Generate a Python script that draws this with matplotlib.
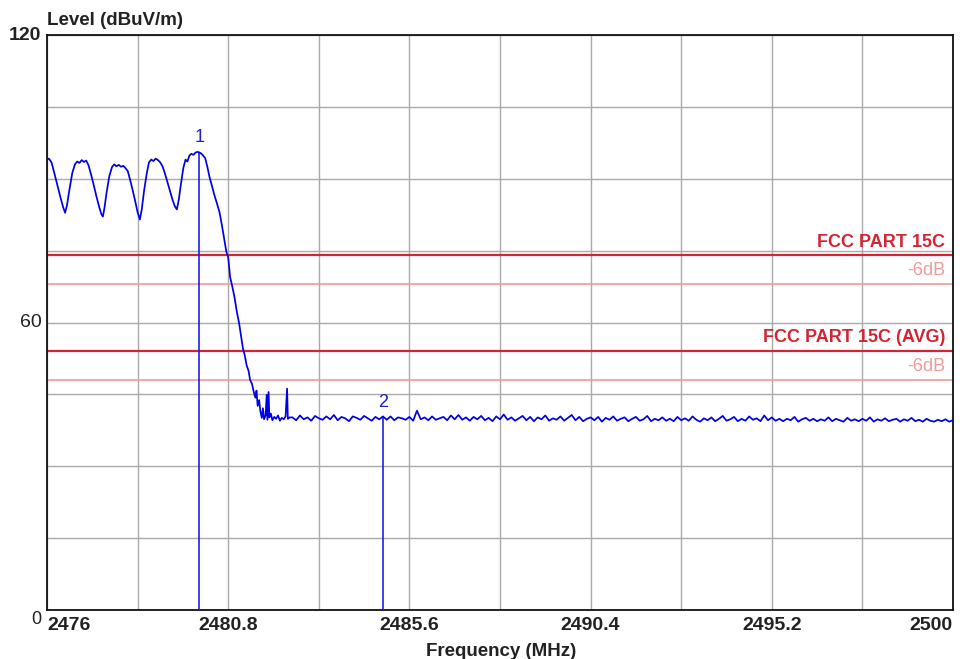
import numpy as np
import matplotlib
matplotlib.use("Agg")
import matplotlib.pyplot as plt

plt.rcParams["font.family"] = ["Liberation Sans", "DejaVu Sans"]

# in-band ripple and band-edge roll-off (MHz, dBuV/m)
edge_freq = [
    2476.00, 2476.05, 2476.12, 2476.20, 2476.28, 2476.36, 2476.43, 2476.48, 2476.53, 2476.60,
    2476.67, 2476.74, 2476.80, 2476.86, 2476.92, 2476.98, 2477.04, 2477.10, 2477.17, 2477.24,
    2477.31, 2477.38, 2477.44, 2477.48, 2477.52, 2477.58, 2477.65, 2477.72, 2477.78, 2477.84,
    2477.90, 2477.96, 2478.02, 2478.08, 2478.14, 2478.20, 2478.27, 2478.34, 2478.40, 2478.46,
    2478.51, 2478.57, 2478.64, 2478.70, 2478.76, 2478.82, 2478.88, 2478.94, 2479.00, 2479.06,
    2479.12, 2479.19, 2479.26, 2479.33, 2479.39, 2479.44, 2479.49, 2479.55, 2479.61, 2479.67,
    2479.72, 2479.77, 2479.82, 2479.88, 2479.94, 2480.00, 2480.06, 2480.12, 2480.19, 2480.25,
    2480.31, 2480.37, 2480.43, 2480.50, 2480.57, 2480.64, 2480.70, 2480.75, 2480.80, 2480.85,
    2480.90, 2480.96, 2481.03, 2481.09, 2481.15, 2481.19, 2481.24, 2481.29, 2481.34, 2481.38,
    2481.43, 2481.48, 2481.52, 2481.55, 2481.58, 2481.62, 2481.65, 2481.69, 2481.72, 2481.75,
    2481.79, 2481.82, 2481.84, 2481.87, 2481.89, 2481.93, 2481.97, 2482.02, 2482.07, 2482.12,
    2482.17, 2482.22, 2482.27, 2482.32, 2482.36, 2482.38, 2482.43,
]
edge_level = [
    94.0, 94.2, 93.4, 91.0, 88.5, 86.0, 84.0, 82.9, 84.5, 88.0,
    91.2, 93.0, 93.6, 93.3, 93.9, 93.5, 93.8, 92.8, 90.8, 88.6,
    86.3, 84.2, 82.6, 82.1, 83.8, 87.2, 90.5, 92.4, 93.0, 92.6,
    92.9, 92.5, 92.7, 92.2, 91.6, 89.8, 87.6, 85.2, 83.0, 81.5,
    83.6, 87.4, 91.0, 93.4, 94.0, 93.7, 94.2, 93.9, 93.4, 92.6,
    91.2, 89.3, 87.4, 85.5, 84.2, 83.6, 85.6, 89.0, 92.2, 94.0,
    93.6, 94.8, 95.2, 95.0, 95.5, 95.6, 95.4, 95.0, 94.3, 92.4,
    90.2, 88.5, 86.7, 84.9, 83.0, 80.0, 77.2, 74.8, 73.6, 69.5,
    67.8, 65.6, 62.2, 59.8, 56.7, 54.6, 53.1, 51.0, 49.9, 48.0,
    47.2, 45.4, 44.3, 45.8, 42.6, 43.8, 41.6, 40.1, 42.1, 39.8,
    40.6, 44.9, 39.7, 45.5, 40.2, 41.0, 39.6, 40.3, 39.9, 40.6,
    39.5, 40.1, 39.8, 40.4, 46.2, 39.9, 40.2,
]

# noise floor sweep, 0.1 MHz step from 2482.5 MHz
floor_start = 2482.5
floor_step = 0.1
floor_level = [
    40.2, 39.6, 40.6, 39.8, 40.2, 39.5, 40.5, 40.0, 39.7, 40.4,
    39.8, 40.7, 39.6, 40.3, 40.0, 39.4, 40.4, 40.1, 39.7, 40.5,
    40.0, 39.5, 40.3, 39.8, 40.4, 39.7, 40.4, 39.6, 40.2, 40.0,
    39.7, 40.3, 39.5, 41.6, 39.8, 40.2, 39.6, 40.4, 39.7, 40.0,
    40.3, 39.6, 40.6, 39.8, 40.7, 39.7, 40.2, 39.5, 40.3, 39.8,
    40.5, 39.6, 40.1, 39.4, 40.4, 39.8, 40.8, 39.7, 40.2, 39.5,
    40.0, 40.5, 39.6, 40.3, 39.4, 40.2, 39.8, 40.6, 39.5, 40.0,
    39.7, 40.4, 39.5, 40.1, 40.7, 39.6, 40.3, 39.4, 39.9, 40.2,
    39.6, 40.3, 39.3, 40.1, 39.7, 40.4, 39.5, 39.9, 40.2, 39.4,
    39.9, 40.3, 39.5, 39.8, 40.5, 39.4, 39.9, 39.6, 40.2, 39.5,
    39.9, 39.4, 40.3, 39.6, 40.0, 39.5, 40.4, 39.7, 39.3, 40.0,
    39.6, 40.2, 39.4, 39.9, 40.5, 39.5, 39.8, 40.3, 39.4, 39.9,
    39.5, 40.4, 39.7, 40.0, 39.4, 40.6, 39.6, 40.2, 39.5, 39.9,
    39.4, 39.9, 39.6, 40.3, 39.3, 39.8, 40.1, 39.5, 39.9, 39.4,
    39.8, 39.5, 40.2, 39.4, 39.9, 39.6, 39.3, 40.1, 39.5, 39.8,
    39.4, 39.9, 39.5, 40.2, 39.3, 39.8, 39.5, 40.0, 39.4, 39.7,
    39.9, 39.3, 39.8, 39.5, 40.1, 39.4, 39.7, 39.3, 39.9, 39.5,
    39.3, 39.7, 39.4, 39.8, 39.3, 39.6,
]

# markers
marker_names = ["1", "2"]
marker_freq = [2480.03, 2484.90]
marker_level = [95.6, 40.3]

# limit lines
limit_names = ["FCC PART 15C", "-6dB", "FCC PART 15C (AVG)", "-6dB"]
limit_levels = [74, 68, 54, 48]
limit_main = [True, False, True, False]

x_ticks = [2476, 2480.8, 2485.6, 2490.4, 2495.2, 2500]
x_tick_labels = ["2476", "2480.8", "2485.6", "2490.4", "2495.2", "2500"]
y_ticks = [0, 60, 120]

floor_freq = floor_start + floor_step * np.arange(len(floor_level))
freq = np.concatenate([edge_freq, floor_freq])
level = np.concatenate([edge_level, floor_level])

fig = plt.figure(figsize=(9.71, 6.59), dpi=100)
ax = fig.add_axes([47 / 971, 49 / 659, 906 / 971, 575 / 659])

ax.set_xlim(2476, 2500)
ax.set_ylim(0, 120)

# grid every 2.4 MHz / 15 dB
ax.set_xticks(np.arange(2476, 2500.01, 2.4))
ax.set_xticklabels([])
ax.set_yticks(np.arange(0, 121, 15))
ax.set_yticklabels([])
ax.tick_params(length=0)
ax.grid(True, color="#aaaaaa", linewidth=1.0)
ax.set_axisbelow(True)
for s in ax.spines.values():
    s.set_color("#111111")
    s.set_linewidth(1.3)

trans = ax.get_xaxis_transform()
for i, (t, lab) in enumerate(zip(x_ticks, x_tick_labels)):
    ha = "left" if i == 0 else ("right" if i == len(x_ticks) - 1 else "center")
    ax.text(t, -0.012, lab, transform=trans, ha=ha, va="top",
            fontsize=14, fontweight="bold", color="#222222")

ytrans = ax.get_yaxis_transform()
for v in y_ticks:
    if v == 120:
        fs, fw, dy = 14, "bold", 0
    elif v == 60:
        fs, fw, dy = 14, "normal", 0
    else:
        fs, fw, dy = 13, "normal", -2
    ax.text(-0.006, v + dy, str(v), transform=ytrans, ha="right", va="center",
            fontsize=fs, fontweight=fw, color="#222222")

# limit lines
for name, lv, main in zip(limit_names, limit_levels, limit_main):
    col = "#d42434" if main else "#f29a9a"
    ax.axhline(lv, color=col, linewidth=1.6 if main else 1.2, zorder=2)
    ax.text(2499.8, lv + 1.0, name, ha="right", va="bottom", fontsize=13,
            fontweight="bold" if main else "normal", color=col)

# trace
ax.plot(freq, level, color="#0000e6", linewidth=1.25, zorder=4)

# markers
for name, f, lv in zip(marker_names, marker_freq, marker_level):
    ax.vlines(f, 0, lv, color="#2020e0", linewidth=1.2, zorder=3)
    ax.text(f, lv + 1.2, name, ha="center", va="bottom", fontsize=13, color="#2020c8")

fig.text(47 / 971, 1 - 25 / 659, "Level (dBuV/m)", ha="left", va="baseline",
         fontsize=13.5, fontweight="bold", color="#222222")
fig.text(501 / 971, 1 - 656 / 659, "Frequency (MHz)", ha="center", va="baseline",
         fontsize=13.5, fontweight="bold", color="#222222")

fig.savefig("out.png", dpi=100)
